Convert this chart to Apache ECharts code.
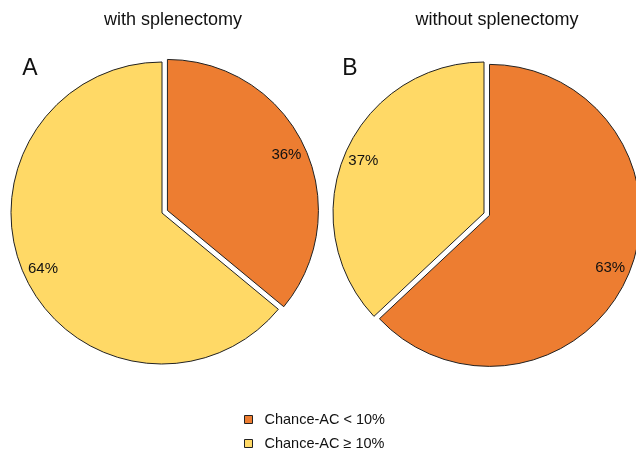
<!DOCTYPE html>
<html><head><meta charset="utf-8">
<script src="https://cdn.jsdelivr.net/npm/echarts@6/dist/echarts.min.js"></script>
<style>html,body{margin:0;padding:0;background:#fff}#c{width:636px;height:449px}</style>
</head><body><div id="c"></div>
<script>
const categories = ['Chance-AC < 10%', 'Chance-AC \u2265 10%'];
const withSplenectomy = [36, 64];
const withoutSplenectomy = [63, 37];
const panelTitles = ['with splenectomy', 'without splenectomy'];
const panelLetters = ['A', 'B'];
const colors = ['#ED7D31', '#FFD966'];

const FONT = 'Liberation Sans, Arial, sans-serif';
const R = 151;
const centers = [[162, 213], [484, 213]];
const datasets = [withSplenectomy, withoutSplenectomy];

function mkData(vals, transparent) {
  return vals.map((v, i) => ({
    name: categories[i], value: v, selected: i === 0,
    itemStyle: transparent ? { color: 'rgba(0,0,0,0)', borderWidth: 0 } : { color: colors[i] }
  }));
}

const series = [];
datasets.forEach((vals, k) => {
  series.push({
    type: 'pie', center: centers[k], radius: [0, R], startAngle: 90, clockwise: true,
    selectedMode: 'single', selectedOffset: 6, silent: true, animation: false,
    itemStyle: { borderColor: '#222', borderWidth: 1 },
    label: { show: false }, labelLine: { show: false },
    emphasis: { scale: false },
    data: mkData(vals, false)
  });
  series.push({
    type: 'pie', center: centers[k], radius: [Math.round(R * 0.7), R], startAngle: 90, clockwise: true,
    selectedMode: 'single', selectedOffset: 6, silent: true, animation: false,
    legendHoverLink: false,
    label: { show: true, position: 'inside', formatter: '{d}%', color: '#111', fontSize: 15, fontFamily: FONT, padding: [6, 0, 0, 0] },
    labelLine: { show: false }, emphasis: { scale: false },
    data: mkData(vals, true)
  });
});

const titleStyle = (txt, x, y, size) => ({
  type: 'text', x: x, y: y, silent: true,
  style: { text: txt, fontFamily: FONT, fontSize: size, fill: '#111', textAlign: 'center', textVerticalAlign: 'middle' }
});

const legendBase = {
  orient: 'vertical', left: 244, itemWidth: 8, itemHeight: 8, padding: 0,
  icon: 'rect', selectedMode: false,
  textStyle: { fontFamily: FONT, fontSize: 14.5, color: '#111', padding: [0, 0, 0, 7] },
  itemStyle: { borderColor: '#222', borderWidth: 1 }
};

const chart = echarts.init(document.getElementById('c'), null, { renderer: 'canvas' });
chart.setOption({
  backgroundColor: '#fff',
  animation: false,
  color: colors,
  graphic: [
    titleStyle(panelTitles[0], 173, 20, 18),
    titleStyle(panelTitles[1], 497, 20, 18),
    titleStyle(panelLetters[0], 30, 69, 23),
    titleStyle(panelLetters[1], 350, 69, 23)
  ],
  legend: [
    Object.assign({}, legendBase, { data: [categories[0]], top: 412 }),
    Object.assign({}, legendBase, { data: [categories[1]], top: 436 })
  ],
  series: series
});
</script></body></html>
